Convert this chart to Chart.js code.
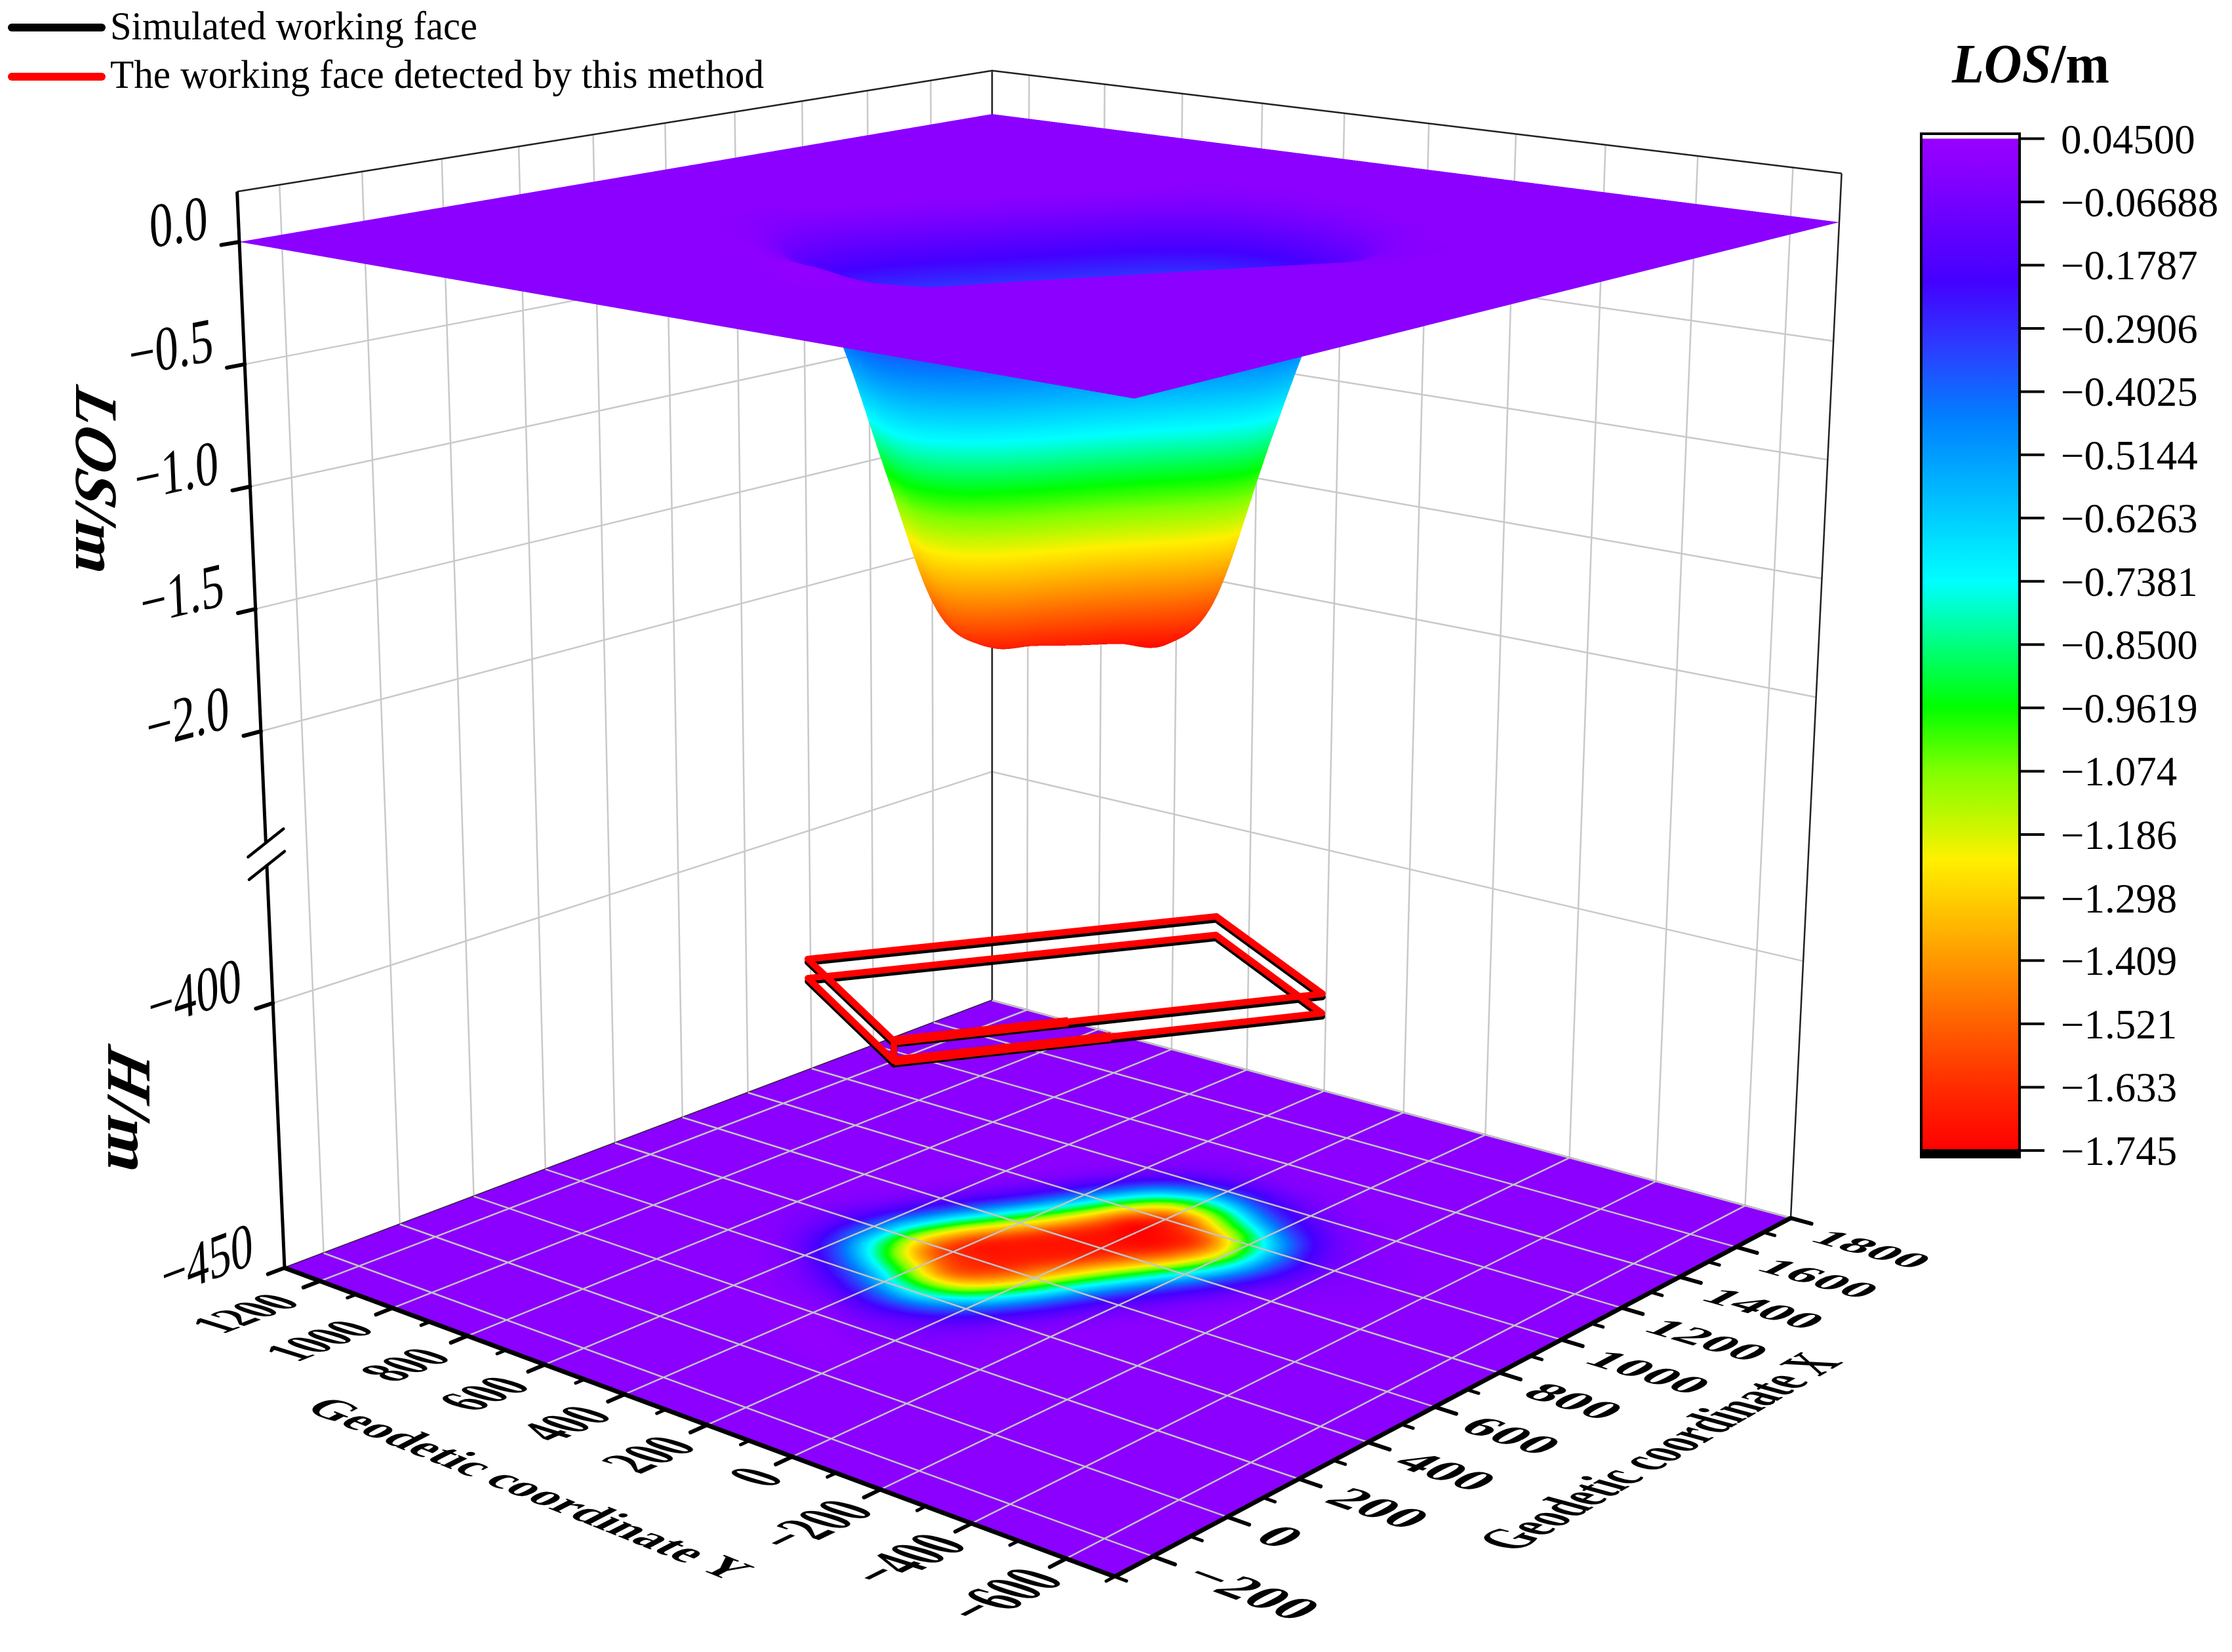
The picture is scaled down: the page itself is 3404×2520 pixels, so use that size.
<!DOCTYPE html>
<html><head><meta charset="utf-8"><title>Working face detection</title>
<style>html,body{margin:0;padding:0;background:#fff}canvas{display:block}</style>
<script src="https://cdn.jsdelivr.net/npm/chart.js@4/dist/chart.umd.js"></script></head>
<body><canvas id="c" width="3404" height="2520"></canvas>
<script>
// ---------- values ----------
const xTicks = [-200,0,200,400,600,800,1000,1200,1400,1600,1800];
const yTicks = [-600,-400,-200,0,200,400,600,800,1000,1200];
const xMinorTicks = [-300,-100,100,300,500,700,900,1100,1300,1500,1700];
const yMinorTicks = [-700,-500,-300,-100,100,300,500,700,900,1100,1300];
const losTicks = [0,-0.5,-1,-1.5,-2];
const losTickLabels = ['0.0','\u22120.5','\u22121.0','\u22121.5','\u22122.0'];
const heightTicks = [-450,-400];
const colorbarLabels = ['0.04500','\u22120.06688','\u22120.1787','\u22120.2906','\u22120.4025','\u22120.5144','\u22120.6263','\u22120.7381','\u22120.8500','\u22120.9619','\u22121.074','\u22121.186','\u22121.298','\u22121.409','\u22121.521','\u22121.633','\u22121.745'];
const colorbarValues = [0.045,-0.06688,-0.1787,-0.2906,-0.4025,-0.5144,-0.6263,-0.7381,-0.85,-0.9619,-1.074,-1.186,-1.298,-1.409,-1.521,-1.633,-1.745];
const colorStopValues = [0.045,0,-0.207,-0.33,-0.45,-0.738,-0.96,-1.074,-1.186,-1.23,-1.409,-1.521,-1.633,-1.745];
const colorStopColors = ['#9a00ff','#8b00ff','#4400ff','#2a40ff','#0080ff','#00ffff','#00ff00','#80ff00','#d8f500','#fff000','#ff9800','#ff6000','#ff2c00','#ff0000'];
const faceX = [290,1020,1270,540];
const faceY = [280,-143,291,713];
const faceTopH = -399.3, faceBottomH = -403;
// LOS sampled on the panel-aligned grid (along-strike p, across-strike q)
const pAxis = [-595,-510,-425,-340,-255,-170,-85,0,85,170,255,340,425,510,595];
const qAxis = [-390,-325,-260,-195,-130,-65,0,65,130,195,260,325,390];
const losQm390 = [0.01,0.01,-0.01,-0.01,-0.01,-0.01,-0.01,-0.01,-0.01,-0.01,-0.01,-0.01,-0.01,0,0];
const losQm325 = [0.02,-0.01,-0.04,-0.07,-0.08,-0.09,-0.09,-0.09,-0.09,-0.09,-0.08,-0.06,-0.03,-0.01,0];
const losQm260 = [0.02,-0.02,-0.09,-0.20,-0.29,-0.33,-0.32,-0.31,-0.32,-0.33,-0.30,-0.20,-0.08,-0.02,0];
const losQm195 = [0.02,-0.04,-0.21,-0.47,-0.70,-0.78,-0.77,-0.76,-0.77,-0.79,-0.72,-0.46,-0.18,-0.04,0];
const losQm130 = [0.01,-0.07,-0.34,-0.80,-1.19,-1.32,-1.30,-1.28,-1.31,-1.34,-1.22,-0.78,-0.31,-0.07,-0.01];
const losQm65  = [0.0,-0.09,-0.41,-0.98,-1.49,-1.61,-1.61,-1.62,-1.63,-1.66,-1.52,-0.96,-0.37,-0.10,-0.01];
const losQ0    = [0.0,-0.10,-0.42,-1.00,-1.53,-1.68,-1.69,-1.70,-1.71,-1.73,-1.56,-0.98,-0.38,-0.10,-0.01];
const losQp65  = [0.0,-0.09,-0.41,-0.98,-1.49,-1.65,-1.64,-1.63,-1.64,-1.70,-1.52,-0.96,-0.37,-0.10,-0.01];
const losQp130 = [0,-0.07,-0.34,-0.80,-1.19,-1.32,-1.30,-1.28,-1.31,-1.36,-1.22,-0.78,-0.31,-0.07,-0.01];
const losQp195 = [0,-0.04,-0.21,-0.47,-0.70,-0.78,-0.77,-0.76,-0.77,-0.80,-0.72,-0.46,-0.18,-0.04,0];
const losQp260 = [0,-0.02,-0.09,-0.20,-0.29,-0.33,-0.32,-0.31,-0.32,-0.33,-0.30,-0.20,-0.08,-0.02,0];
const losQp325 = [0,-0.01,-0.04,-0.07,-0.08,-0.09,-0.09,-0.09,-0.09,-0.09,-0.08,-0.06,-0.03,-0.01,0];
const losQp390 = [0,0,-0.01,-0.01,-0.01,-0.01,-0.01,-0.01,-0.01,-0.01,-0.01,-0.01,-0.01,0,0];
const losRows = [losQm390,losQm325,losQm260,losQm195,losQm130,losQm65,losQ0,losQp65,losQp130,losQp195,losQp260,losQp325,losQp390];
const basinCentre = [768,255], panelAngleDeg = 30;
const xRange = [-300,1800], yRange = [-700,1300];

// ---------- view of the 3D box (two horizontal planes, homographies) ----------
function homography(p00,p10,p11,p01){
  const dx1=p10[0]-p11[0],dx2=p01[0]-p11[0],sx=p00[0]-p10[0]+p11[0]-p01[0];
  const dy1=p10[1]-p11[1],dy2=p01[1]-p11[1],sy=p00[1]-p10[1]+p11[1]-p01[1];
  const den=dx1*dy2-dx2*dy1, g=(sx*dy2-dx2*sy)/den, h=(dx1*sy-sx*dy1)/den;
  const a=p10[0]-p00[0]+g*p10[0], b=p01[0]-p00[0]+h*p01[0], c=p00[0];
  const d=p10[1]-p00[1]+g*p10[1], e=p01[1]-p00[1]+h*p01[1], f=p00[1];
  return (s,t)=>{const k=g*s+h*t+1;return [(a*s+b*t+c)/k,(d*s+e*t+f)/k];};
}
const floorH = homography([1700,2405],[2731,1858],[1513,1526],[434,1934]);
const planeH = homography([1730,608],[2805,339],[1513,174],[365,369]);
const LOS_W = 0.2385, H_W = 0.258/50, TOP_W = 1.049, BREAK_W = 0.404;
const wLos = v => 1 + LOS_W*v;
const wH = v => H_W*(v+450);
const sOf = X => (X-xRange[0])/(xRange[1]-xRange[0]);
const tOf = Y => (Y-yRange[0])/(yRange[1]-yRange[0]);
function proj(X,Y,w){
  const s=sOf(X),t=tOf(Y),a=floorH(s,t),b=planeH(s,t);
  return {x:a[0]+(b[0]-a[0])*w,y:a[1]+(b[1]-a[1])*w};
}
// ---------- surface lookup ----------
const cosA=Math.cos(panelAngleDeg*Math.PI/180), sinA=Math.sin(panelAngleDeg*Math.PI/180);
function cr(a,b,c,d,u){return 0.5*(2*b+(c-a)*u+(2*a-5*b+4*c-d)*u*u+(3*b-a-3*c+d)*u*u*u);}
function losAt(X,Y){
  const dx=X-basinCentre[0],dy=Y-basinCentre[1];
  const p=dx*cosA-dy*sinA,q=dx*sinA+dy*cosA;
  const dp=pAxis[1]-pAxis[0],dq=qAxis[1]-qAxis[0];
  const fp=(p-pAxis[0])/dp,fq=(q-qAxis[0])/dq;
  const np=pAxis.length,nq=qAxis.length;
  const cell=(i,j)=>{
    if(j<0||j>=nq||i<0||i>=np)return 0;
    return losRows[j][i];};
  if(fp<-1||fq<-1||fp>np||fq>nq)return 0;
  const ip=Math.floor(fp),iq=Math.floor(fq),up=fp-ip,uq=fq-iq,r=[];
  for(let j=-1;j<=2;j++)r.push(cr(cell(ip-1,iq+j),cell(ip,iq+j),cell(ip+1,iq+j),cell(ip+2,iq+j),up));
  return cr(r[0],r[1],r[2],r[3],uq);
}
// ---------- colours ----------
function hexRgb(h){return [parseInt(h.slice(1,3),16),parseInt(h.slice(3,5),16),parseInt(h.slice(5,7),16)];}
const LUTN=4096, lut=new Uint32Array(LUTN);
const cbTop=colorbarValues[0], cbBot=colorbarValues[colorbarValues.length-1];
(function(){const st=colorStopColors.map(hexRgb);
  for(let i=0;i<LUTN;i++){const v=cbTop+(cbBot-cbTop)*i/(LUTN-1);let k=0;
    while(k<colorStopValues.length-2&&v<colorStopValues[k+1])k++;
    const f=(colorStopValues[k]-v)/(colorStopValues[k]-colorStopValues[k+1]);
    const c=[0,1,2].map(n=>Math.round(st[k][n]+(st[k+1][n]-st[k][n])*f));
    lut[i]=(255<<24)|(c[2]<<16)|(c[1]<<8)|c[0];}})();
const lutIndex=v=>{const i=Math.round((v-cbTop)/(cbBot-cbTop)*(LUTN-1));return i<0?0:i>=LUTN?LUTN-1:i;};
// triangle raster with interpolated LOS, painter's order
function tri(buf,W,H,ax,ay,av,bx,by,bv,cx,cy,cv){
  const minx=Math.max(0,Math.floor(Math.min(ax,bx,cx))),maxx=Math.min(W-1,Math.ceil(Math.max(ax,bx,cx)));
  const miny=Math.max(0,Math.floor(Math.min(ay,by,cy))),maxy=Math.min(H-1,Math.ceil(Math.max(ay,by,cy)));
  const d=(bx-ax)*(cy-ay)-(cx-ax)*(by-ay); if(Math.abs(d)<1e-6)return;
  const id=1/d, e=-0.02;
  for(let y=miny;y<=maxy;y++){const py=y+.5;
    for(let x=minx;x<=maxx;x++){const px=x+.5;
      const u=((px-ax)*(cy-ay)-(cx-ax)*(py-ay))*id, v=((bx-ax)*(py-ay)-(px-ax)*(by-ay))*id;
      if(u>=e&&v>=e&&u+v<=1-e) buf[y*W+x]=lut[lutIndex(av+(bv-av)*u+(cv-av)*v)];
    }}
}
function rasterSurface(chart,box,levelFn){
  const S=2,W=box[2]*S,H=box[3]*S,off=document.createElement('canvas');off.width=W;off.height=H;
  const octx=off.getContext('2d'),img=octx.createImageData(W,H),buf=new Uint32Array(img.data.buffer);
  const n=320,sx=chart.scales.x,sy=chart.scales.y,pts=new Float64Array((n+1)*(n+1)*3);
  for(let i=0;i<=n;i++)for(let j=0;j<=n;j++){
    const X=xRange[0]+(xRange[1]-xRange[0])*i/n,Y=yRange[0]+(yRange[1]-yRange[0])*j/n,v=losAt(X,Y);
    const P=proj(X,Y,levelFn(v)),o=((n+1)*i+j)*3;
    pts[o]=(sx.getPixelForValue(P.x)-box[0])*S;pts[o+1]=(sy.getPixelForValue(P.y)-box[1])*S;pts[o+2]=v;}
  const ix=(i,j)=>((n+1)*i+j)*3;
  for(let i=n-1;i>=0;i--)for(let j=n-1;j>=0;j--){
    const a=ix(i,j),b=ix(i+1,j),c=ix(i+1,j+1),d=ix(i,j+1);
    tri(buf,W,H,pts[b],pts[b+1],pts[b+2],pts[c],pts[c+1],pts[c+2],pts[d],pts[d+1],pts[d+2]);
    tri(buf,W,H,pts[a],pts[a+1],pts[a+2],pts[b],pts[b+1],pts[b+2],pts[d],pts[d+1],pts[d+2]);
  }
  octx.putImageData(img,0,0);
  chart.ctx.save();chart.ctx.imageSmoothingEnabled=true;chart.ctx.imageSmoothingQuality='high';
  chart.ctx.drawImage(off,box[0],box[1],box[2],box[3]);chart.ctx.restore();
}
// ---------- line sets ----------
const gap={x:null,y:null};
function seg(list,a,b){list.push(a,b,gap);}
const wallGrid=[],floorGrid=[],floorEdge=[],thinEdge=[],axisEdge=[],majorTicks=[],minorTicks=[],wallAxis=[],breakMarks=[],cbTicks=[];
const [X0,X1]=xRange,[Y0,Y1]=yRange;
xTicks.forEach(X=>{seg(wallGrid,proj(X,Y1,0),proj(X,Y1,TOP_W));seg(floorGrid,proj(X,Y0,0),proj(X,Y1,0));
  seg(majorTicks,proj(X,Y0,0),proj(X,Y0-45,0));});
yTicks.forEach(Y=>{seg(wallGrid,proj(X1,Y,0),proj(X1,Y,TOP_W));seg(floorGrid,proj(X0,Y,0),proj(X1,Y,0));
  seg(majorTicks,proj(X0,Y,0),proj(X0-42,Y,0));});
xMinorTicks.forEach(X=>seg(minorTicks,proj(X,Y0,0),proj(X,Y0-24,0)));
yMinorTicks.forEach(Y=>seg(minorTicks,proj(X0,Y,0),proj(X0-22,Y,0)));
const heightLevels=heightTicks.map(wH), losLevels=losTicks.map(wLos);
[...losLevels.slice(1),heightLevels[1]].forEach(w=>{const a=proj(X0,Y1,w),b=proj(X1,Y1,w),c=proj(X1,Y0,w);
  wallGrid.push(a,b,c,gap);});
[...losLevels,...heightLevels].forEach(w=>seg(majorTicks,proj(X0,Y1,w),proj(X0-42,Y1,w)));
seg(thinEdge,proj(X0,Y1,0),proj(X1,Y1,0));seg(thinEdge,proj(X1,Y1,0),proj(X1,Y0,0));
seg(thinEdge,proj(X1,Y1,0),proj(X1,Y1,TOP_W));seg(thinEdge,proj(X1,Y0,0),proj(X1,Y0,TOP_W));
thinEdge.push(proj(X0,Y1,TOP_W),proj(X1,Y1,TOP_W),proj(X1,Y0,TOP_W),gap);
seg(axisEdge,proj(X0,Y1,0),proj(X0,Y0,0));seg(axisEdge,proj(X0,Y0,0),proj(X1,Y0,0));
seg(wallAxis,proj(X0,Y1,0),proj(X0,Y1,BREAK_W-0.011));seg(wallAxis,proj(X0,Y1,BREAK_W+0.011),proj(X0,Y1,TOP_W));
[-0.0115,0.0105].forEach(dw=>{const c=proj(X0,Y1,BREAK_W+dw);
  seg(breakMarks,{x:c.x-27,y:c.y+22},{x:c.x+27,y:c.y-21});});
function faceLoop(h){const w=wH(h),o=faceX.map((X,i)=>proj(X,faceY[i],w));o.push(o[0],gap);return o;}
function facePts(dh){const o=[...faceLoop(faceTopH+dh),...faceLoop(faceBottomH+dh)];
  o.push(proj(faceX[0],faceY[0],wH(faceTopH+dh)),proj(faceX[0],faceY[0],wH(faceBottomH+dh)));return o;}
function nearPart(h,f){return [proj(faceX[0],faceY[0],wH(h)),proj(faceX[0]+(faceX[1]-faceX[0])*f,faceY[0]+(faceY[1]-faceY[0])*f,wH(h))];}
const nearEdges=[...nearPart(faceTopH,0.4),gap,...nearPart(faceBottomH,0.5)];
const CB={left:2930,right:3080,top:211.5,bottom:1755};
const cbY=v=>CB.top+(cbTop-v)/(cbTop-cbBot)*(CB.bottom-CB.top);
colorbarValues.forEach(v=>seg(cbTicks,{x:CB.right,y:cbY(v)},{x:3118,y:cbY(v)}));
const line=(label,data,color,width,order,extra)=>Object.assign({label,data,borderColor:color,borderWidth:width,order,showLine:true,pointRadius:0,spanGaps:false,borderCapStyle:'butt',borderJoinStyle:'round',fill:false,clip:false},extra||{});
const round={borderCapStyle:'round'};
// ---------- text ----------
function put(ctx,runs,ox,oy,b,u,align,fit){
  ctx.save();ctx.transform(b[0]/100,b[1]/100,-u[0]/100,-u[1]/100,ox,oy);ctx.fillStyle='#000';ctx.textBaseline='alphabetic';ctx.textAlign='left';
  let w=0;runs.forEach(r=>{ctx.font=r[1]+' 100px "Liberation Serif"';r[2]=ctx.measureText(r[0]).width;w+=r[2];});
  if(fit)ctx.scale(fit/(w/100*Math.hypot(b[0],b[1])),1);
  let x=align==='right'?-w:0;
  runs.forEach(r=>{ctx.font=r[1]+' 100px "Liberation Serif"';ctx.fillText(r[0],x,0);x+=r[2];});
  ctx.restore();
}
function jac(X,Y){const a=proj(X,Y,0),c=proj(X+1,Y,0),d=proj(X,Y+1,0);return {dX:[c.x-a.x,c.y-a.y],dY:[d.x-a.x,d.y-a.y],a};}
const lab=v=>(v<0?'\u2212':'')+Math.abs(v);
const surfacePlugin={id:'surface',
  beforeDatasetDraw(chart,args){
    if(chart.data.datasets[args.index].label!=='floor grid')return;
    rasterSurface(chart,[420,1510,2330,910],()=>0);
    rasterSurface(chart,[340,150,2490,880],wLos);
  },
  afterDatasetsDraw(chart){
    const ctx=chart.ctx,sx=chart.scales.x,sy=chart.scales.y;
    // colour bar
    const gt=sy.getPixelForValue(cbY(cbTop)),gb=sy.getPixelForValue(cbY(cbBot));
    const g=ctx.createLinearGradient(0,gt,0,gb);
    colorStopValues.forEach((v,i)=>g.addColorStop((cbTop-v)/(cbTop-cbBot),colorStopColors[i]));
    const L=sx.getPixelForValue(CB.left),R=sx.getPixelForValue(CB.right);
    ctx.fillStyle=g;ctx.fillRect(L,gt,R-L,gb-gt);
    ctx.fillStyle='#000';ctx.fillRect(L-2,gb,R-L+4,12);
    ctx.strokeStyle='#000';ctx.lineWidth=4;ctx.strokeRect(L,204,R-L,gb-204);
    // colour bar labels
    colorbarLabels.forEach((t,i)=>{put(ctx,[[t,'normal']],3143,cbY(colorbarValues[i])+22,[63,0],[0,-63],'left');});
    put(ctx,[['LOS','italic bold'],['/m','bold']],2977,126,[82,0],[0,-84],'left',240);
    // legend
    put(ctx,[['Simulated working face','normal']],168,60,[60,0],[0,-62],'left',560);
    put(ctx,[['The working face detected by this method','normal']],168,134,[60,0],[0,-62],'left',997);
    // wall-axis labels
    const wallLabel=(t,w)=>{const a=proj(X0,Y1,w),c=proj(X0+1,Y1,w),d=proj(X0,Y1,w+1);
      const bl=Math.hypot(c.x-a.x,c.y-a.y),ul=Math.hypot(d.x-a.x,d.y-a.y);
      put(ctx,[[t,'normal']],a.x-47,a.y-6,[(c.x-a.x)/bl*72,(c.y-a.y)/bl*72],[(d.x-a.x)/ul*96,(d.y-a.y)/ul*96],'right');};
    losTickLabels.forEach((t,i)=>wallLabel(t,losLevels[i]));
    heightTicks.forEach((h,i)=>wallLabel(lab(h),heightLevels[i]));
    // axis titles on the left side
    put(ctx,[['LOS','italic bold'],['/m','bold']],116,586,[0,94],[92,24],'left',282);
    put(ctx,[['H','italic bold'],['/m','bold']],165,1592,[0,100],[96,24],'left',189);
    // floor tick labels
    yTicks.forEach(Y=>{const J=jac(X0,Y),near=1-tOf(Y);
      put(ctx,[[lab(Y),'bold']],J.a.x-27+30*near,J.a.y+34,[J.dX[0]*103,J.dX[1]*103],[J.dY[0]*150,J.dY[1]*125],'right');});
    xTicks.forEach(X=>{const J=jac(X,Y0),near=1-sOf(X);
      put(ctx,[[lab(X),'bold']],J.a.x+26+13*near,J.a.y+34,[-J.dY[0]*116,-J.dY[1]*116],[J.dX[0]*120,J.dX[1]*120],'left');});
    // floor axis titles
    const bY=[650,262],lenY=Math.hypot(bY[0],bY[1]);
    put(ctx,[['Geodetic coordinate Y','bold']],462,2150,[bY[0]/lenY*76,bY[1]/lenY*76],[62,-32],'left',lenY);
    const bX=[500,-290],lenX=Math.hypot(bX[0],bX[1]);
    put(ctx,[['Geodetic coordinate X','bold']],2312,2368,[bX[0]/lenX*60,bX[1]/lenX*60],[-96,-26],'left',lenX);
  }};
new Chart(document.getElementById('c'),{type:'scatter',plugins:[surfacePlugin],
  data:{datasets:[
    line('wall grid',wallGrid,'#c9c9c9',2.5,30),
    line('thin box edges',thinEdge,'#222',2.5,29),
    line('floor grid',floorGrid,'#c4c4c4',2.5,20),
    line('Simulated working face',facePts(-0.6),'#000',10,12,round),
    line('The working face detected by this method',facePts(0),'#ff0000',10,11,round),
    line('near edges',nearEdges,'#ff0000',14,10.5),
    line('floor axes',axisEdge,'#000',7,10),
    line('wall axis',wallAxis,'#000',5,9),
    line('break marks',breakMarks,'#000',4.5,8,round),
    line('major ticks',majorTicks,'#000',6,7,round),
    line('minor ticks',minorTicks,'#000',5,6,round),
    line('colour bar ticks',cbTicks,'#000',4,5),
    line('legend simulated',[{x:18,y:42},{x:155,y:42}],'#000',12,4,round),
    line('legend detected',[{x:18,y:117},{x:155,y:117}],'#ff0000',12,3,round)
  ]},
  options:{responsive:false,animation:false,devicePixelRatio:1,layout:{padding:0},
    plugins:{legend:{display:false},tooltip:{enabled:false}},
    scales:{x:{type:'linear',min:0,max:3404,display:false},y:{type:'linear',min:0,max:2520,reverse:true,display:false}}}
});
</script></body></html>
